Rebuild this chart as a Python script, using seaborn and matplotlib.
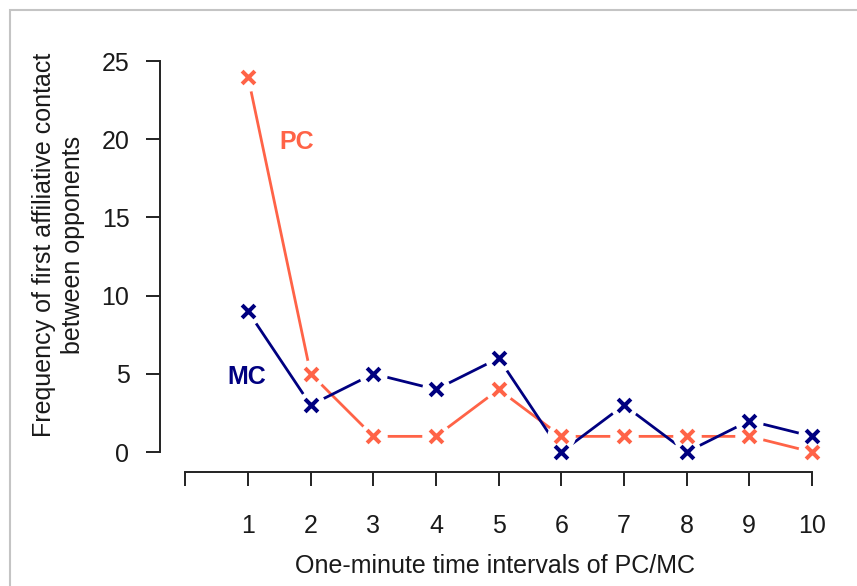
import matplotlib
matplotlib.use("Agg")
import matplotlib.pyplot as plt
import seaborn as sns
import pandas as pd
from matplotlib.patches import Rectangle

intervals = [1, 2, 3, 4, 5, 6, 7, 8, 9, 10]
pc_values = [24, 5, 1, 1, 4, 1, 1, 1, 1, 0]
mc_values = [9, 3, 5, 4, 6, 0, 3, 0, 2, 1]
y_ticks = [0, 5, 10, 15, 20, 25]
x_ticks = [0, 1, 2, 3, 4, 5, 6, 7, 8, 9, 10]
x_tick_labels = ["", "1", "2", "3", "4", "5", "6", "7", "8", "9", "10"]

pc_color = "#FF6347"
mc_color = "#000080"

sns.set_theme(style="white")
plt.rcParams["font.family"] = ["Liberation Sans", "DejaVu Sans"]

df = pd.DataFrame({"interval": intervals, "PC": pc_values, "MC": mc_values})

fig = plt.figure(figsize=(8.57, 5.86), dpi=100)
ax = fig.add_axes([0.1867, 0.1945, 0.9694 - 0.1867, 0.9092 - 0.1945])

FS = 18
TXT = "#1a1a1a"

# lines
sns.lineplot(data=df, x="interval", y="PC", color=pc_color, linewidth=2.0, ax=ax, zorder=2)
sns.lineplot(data=df, x="interval", y="MC", color=mc_color, linewidth=2.0, ax=ax, zorder=2)
# gaps around points (type = "b")
sns.scatterplot(data=df, x="interval", y="PC", color="white", s=420, linewidth=0, ax=ax, zorder=3)
sns.scatterplot(data=df, x="interval", y="MC", color="white", s=420, linewidth=0, ax=ax, zorder=3)
# markers
sns.scatterplot(data=df, x="interval", y="PC", color=pc_color, marker="x", s=85, linewidth=2.9, ax=ax, zorder=4)
sns.scatterplot(data=df, x="interval", y="MC", color=mc_color, marker="x", s=85, linewidth=2.9, ax=ax, zorder=4)

ax.set_xlim(-0.404, 10.3)
ax.set_ylim(-1.28, 25.5)
for s in ["top", "right"]:
    ax.spines[s].set_visible(False)
ax.spines["left"].set_bounds(0, 25)
ax.spines["bottom"].set_bounds(0, 10)
for s in ["left", "bottom"]:
    ax.spines[s].set_color("#222222")
    ax.spines[s].set_linewidth(1.4)

ax.set_yticks(y_ticks)
ax.set_xticks(x_ticks)
ax.set_xticklabels(x_tick_labels)
ax.tick_params(axis="both", direction="out", length=10, width=1.4, color="#222222",
               labelsize=FS, labelcolor=TXT, left=True, bottom=True)
ax.tick_params(axis="y", pad=12)
ax.tick_params(axis="x", pad=20)

ax.set_xlabel("One-minute time intervals of PC/MC", fontsize=FS, color=TXT, labelpad=12)
ax.set_ylabel("Frequency of first affiliative contact\nbetween opponents", fontsize=FS,
              color=TXT, linespacing=1.25)
ax.yaxis.set_label_coords(-0.112, 0.542)

ax.text(1.77, 19.8, "PC", color=pc_color, fontsize=FS, fontweight="bold", ha="center", va="center")
ax.text(0.98, 4.8, "MC", color=mc_color, fontsize=FS, fontweight="bold", ha="center", va="center")

fig.patches.append(Rectangle((10 / 857, -0.1), 1.2, 1.1 - 10 / 586,
                             transform=fig.transFigure, fill=False,
                             edgecolor="#C4C4C4", linewidth=1.5))

fig.savefig("out.png", dpi=100)
